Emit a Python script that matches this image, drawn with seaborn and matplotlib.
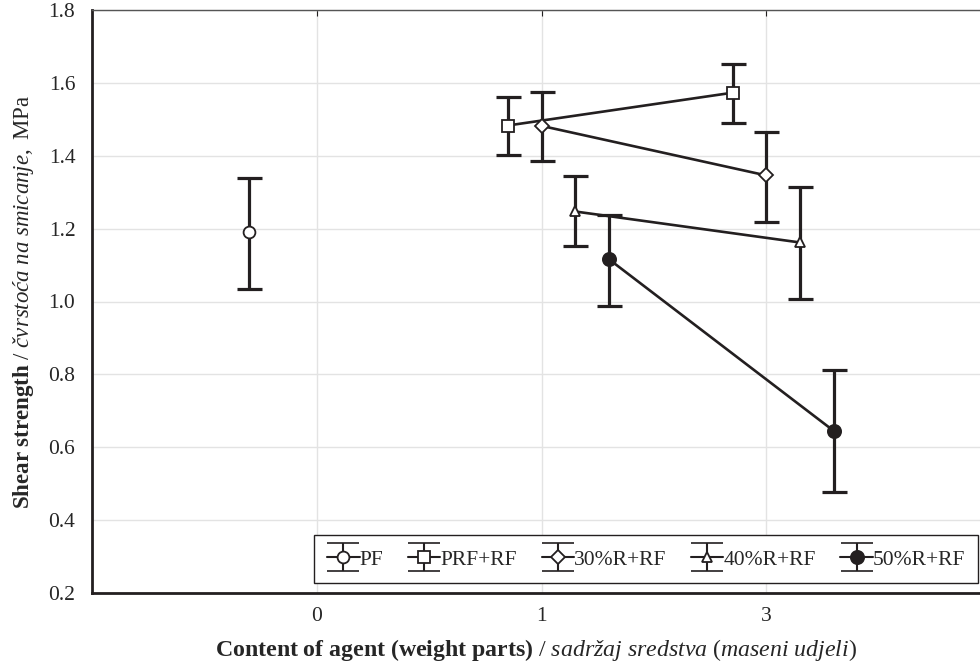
import numpy as np
import pandas as pd
import seaborn as sns
import matplotlib
matplotlib.use("Agg")
import matplotlib.pyplot as plt
from matplotlib.lines import Line2D
from matplotlib.container import ErrorbarContainer
from matplotlib.legend_handler import HandlerErrorbar

# data
series = ["PF", "PRF+RF", "30%R+RF", "40%R+RF", "50%R+RF"]
markers = ["o", "s", "D", "^", "o"]
faces = ["white", "white", "white", "white", "#231f20"]
msizes = [8.5, 8.5, 7, 7.5, 9.5]

pf_x = [-0.3]
pf_y = [1.19]
pf_lo = [1.035]
pf_hi = [1.34]

prf_x = [0.85, 1.85]
prf_y = [1.483, 1.573]
prf_lo = [1.403, 1.490]
prf_hi = [1.562, 1.653]

r30_x = [1.0, 2.0]
r30_y = [1.482, 1.346]
r30_lo = [1.386, 1.217]
r30_hi = [1.575, 1.466]

r40_x = [1.15, 2.15]
r40_y = [1.247, 1.162]
r40_lo = [1.151, 1.008]
r40_hi = [1.345, 1.313]

r50_x = [1.3, 2.3]
r50_y = [1.116, 0.645]
r50_lo = [0.989, 0.477]
r50_hi = [1.238, 0.811]

tick_pos = [0, 1, 2]
tick_labels = ["0", "1", "3"]

xs = [pf_x, prf_x, r30_x, r40_x, r50_x]
ys = [pf_y, prf_y, r30_y, r40_y, r50_y]
los = [pf_lo, prf_lo, r30_lo, r40_lo, r50_lo]
his = [pf_hi, prf_hi, r30_hi, r40_hi, r50_hi]

rows = []
for s, x, y, lo, hi in zip(series, xs, ys, los, his):
    for a, b, c, d in zip(x, y, lo, hi):
        rows.append({"series": s, "pos": a, "value": b, "lo": c, "hi": d})
df = pd.DataFrame(rows)

sns.set_style("white")
plt.rcParams["font.family"] = ["Liberation Serif", "DejaVu Serif"]
plt.rcParams["mathtext.fontset"] = "custom"
plt.rcParams["mathtext.rm"] = "Liberation Serif"
plt.rcParams["mathtext.it"] = "Liberation Serif:italic"
plt.rcParams["mathtext.bf"] = "Liberation Serif:bold"

dark = "#231f20"
fig = plt.figure(figsize=(9.8, 6.64), dpi=100)
ax = fig.add_axes([92 / 980, 1 - 593 / 664, 899 / 980, 583 / 664])

# error bars
for s in series:
    d = df[df["series"] == s]
    ax.errorbar(d["pos"], d["value"],
                yerr=[d["value"] - d["lo"], d["hi"] - d["value"]],
                fmt="none", ecolor=dark, elinewidth=2.3, capsize=9, capthick=2.3, zorder=3)

# lines and markers
n_before = len(ax.lines)
sns.lineplot(data=df, x="pos", y="value", hue="series", style="series",
             markers=dict(zip(series, markers)), dashes=False,
             palette=[dark] * 5, linewidth=1.9, legend=False, ax=ax, zorder=4,
             estimator=None, sort=True)
for line, fc, ms in zip(ax.lines[n_before:], faces, msizes):
    line.set_markerfacecolor(fc)
    line.set_markeredgecolor(dark)
    line.set_markeredgewidth(1.3)
    line.set_markersize(ms)

ax.set_xlim(-1, 3)
ax.set_ylim(0.2, 1.8)
ax.set_xticks(tick_pos)
ax.set_xticklabels(tick_labels)
ax.set_yticks(np.arange(0.2, 1.81, 0.2))
ax.set_yticklabels([f"{v:.1f}" for v in np.arange(0.2, 1.81, 0.2)])
ax.grid(True, color="#e3e3e3", linewidth=1)
ax.tick_params(axis="x", direction="in", length=4, top=True, labelsize=15.5, pad=10, color=dark)
ax.tick_params(axis="y", length=0, labelsize=15.5, pad=12)
for side in ["left", "bottom"]:
    ax.spines[side].set_linewidth(2)
    ax.spines[side].set_color(dark)
ax.spines["top"].set_linewidth(1)
ax.spines["top"].set_color("#555555")
ax.spines["right"].set_visible(False)

ax.set_xlabel(r"$\mathbf{Content\ of\ agent\ (weight\ parts)}$ / $\mathit{sadržaj\ sredstva\ (maseni\ udjeli)}$",
              fontsize=17.2)
ax.set_ylabel(r"$\mathbf{Shear\ strength}$ / $\mathit{čvrstoća\ na\ smicanje,}$ MPa", fontsize=16.5)
ax.xaxis.set_label_coords(0.494, -0.076)
ax.yaxis.set_label_coords(-0.062, 0.5)

# legend with error bar style handles
handles = []
for m, fc, ms in zip(markers, faces, msizes):
    eb = ax.errorbar([np.nan], [np.nan], yerr=[[0.1]], fmt="none", ecolor=dark,
                     elinewidth=1.5, capsize=11.5, capthick=1.2)
    ln = Line2D([], [], color=dark, linewidth=1.5, marker=m, markersize=ms,
                markerfacecolor=fc, markeredgecolor=dark, markeredgewidth=1.3)
    handles.append((eb, ln))
leg = ax.legend(handles, series, ncol=5, loc="lower right",
                bbox_to_anchor=(978 / 980, 1 - 583 / 664), bbox_transform=fig.transFigure,
                frameon=True, fancybox=False, framealpha=1, edgecolor=dark,
                fontsize=15.5, handlelength=1.5, handleheight=1.0, handletextpad=0.0,
                columnspacing=1.15, borderpad=0.6, borderaxespad=0,
                handler_map={ErrorbarContainer: HandlerErrorbar(yerr_size=0.65)})
leg.get_frame().set_linewidth(1)

fig.savefig("out.png", dpi=100)
